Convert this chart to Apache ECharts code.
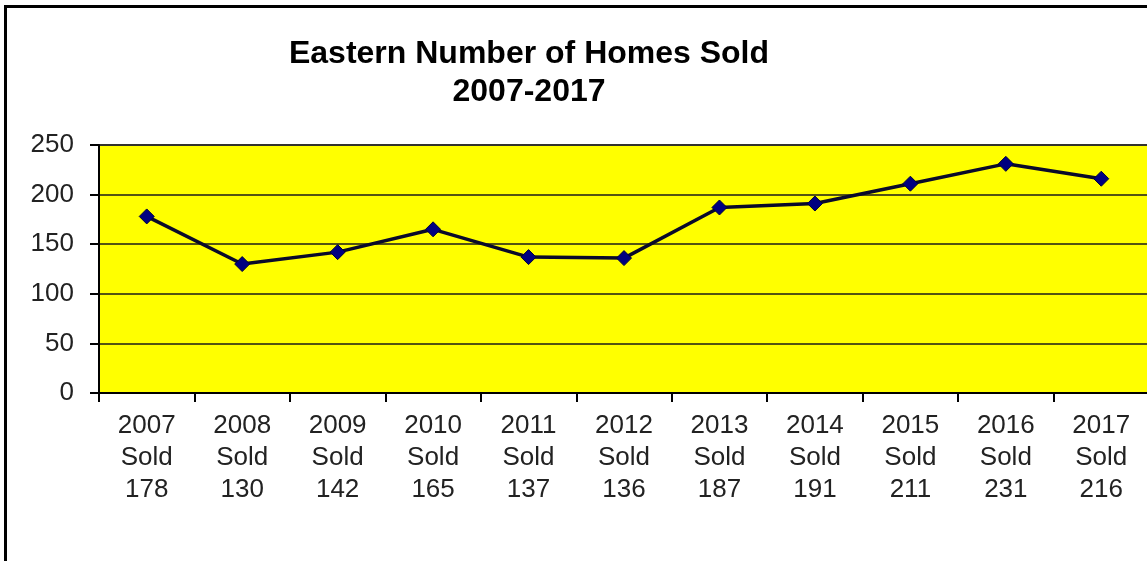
<!DOCTYPE html>
<html>
<head>
<meta charset="utf-8">
<script src="https://cdn.jsdelivr.net/npm/echarts@6/dist/echarts.min.js"></script>
<style>
  html, body { margin: 0; padding: 0; background: #fff; }
  #chart { width: 1147px; height: 561px; }
  #frame { position: absolute; left: 4px; top: 5px; width: 1200px; height: 600px;
           border-left: 3px solid #000; border-top: 3px solid #000; pointer-events: none; }
</style>
</head>
<body>
<div id="chart"></div>
<div id="frame"></div>
<script>
const titleLines = ['Eastern Number of Homes Sold', '2007-2017'];
const years = ['2007', '2008', '2009', '2010', '2011', '2012', '2013', '2014', '2015', '2016', '2017'];
const soldWord = 'Sold';
const homesSold = [178, 130, 142, 165, 137, 136, 187, 191, 211, 231, 216];
const yTicks = { min: 0, max: 250, interval: 50 };

const chart = echarts.init(document.getElementById('chart'));
chart.setOption({
  animation: false,
  backgroundColor: 'transparent',
  title: {
    text: titleLines.join('\n'),
    left: 524,
    top: 30,
    textAlign: 'center',
    textStyle: {
      fontFamily: 'Liberation Sans, Arial, sans-serif',
      fontWeight: 'bold',
      fontSize: 32,
      lineHeight: 38,
      color: '#000'
    }
  },
  grid: {
    left: 99,
    top: 145,
    width: 1050,
    height: 248,
    show: true,
    backgroundColor: '#ffff00',
    borderColor: '#80806a',
    borderWidth: 2,
    containLabel: false,
    outerBoundsMode: 'none'
  },
  xAxis: {
    type: 'category',
    data: years,
    boundaryGap: true,
    axisLine: { show: true, lineStyle: { color: '#000', width: 2 } },
    axisTick: { show: true, length: 9, lineStyle: { color: '#000', width: 2 } },
    axisLabel: {
      interval: 0,
      margin: 17,
      fontFamily: 'Liberation Sans, Arial, sans-serif',
      fontSize: 26,
      lineHeight: 32,
      color: '#222',
      formatter: function (v, i) { return v + '\n' + soldWord + '\n' + homesSold[i]; }
    },
    splitLine: { show: false }
  },
  yAxis: {
    type: 'value',
    min: yTicks.min,
    max: yTicks.max,
    interval: yTicks.interval,
    axisLine: { show: true, lineStyle: { color: '#000', width: 2 } },
    axisTick: { show: true, length: 9, lineStyle: { color: '#000', width: 2 } },
    axisLabel: {
      margin: 25,
      fontFamily: 'Liberation Sans, Arial, sans-serif',
      fontSize: 26,
      color: '#222'
    },
    splitLine: { show: true, lineStyle: { color: '#1a1a1a', width: 1.5 } }
  },
  series: [{
    type: 'line',
    data: homesSold,
    symbol: 'diamond',
    symbolSize: 15,
    lineStyle: { color: '#0a0a2a', width: 3.5 },
    itemStyle: { color: '#000080', borderColor: '#00003a', borderWidth: 1 },
    z: 5
  }]
});
</script>
</body>
</html>
